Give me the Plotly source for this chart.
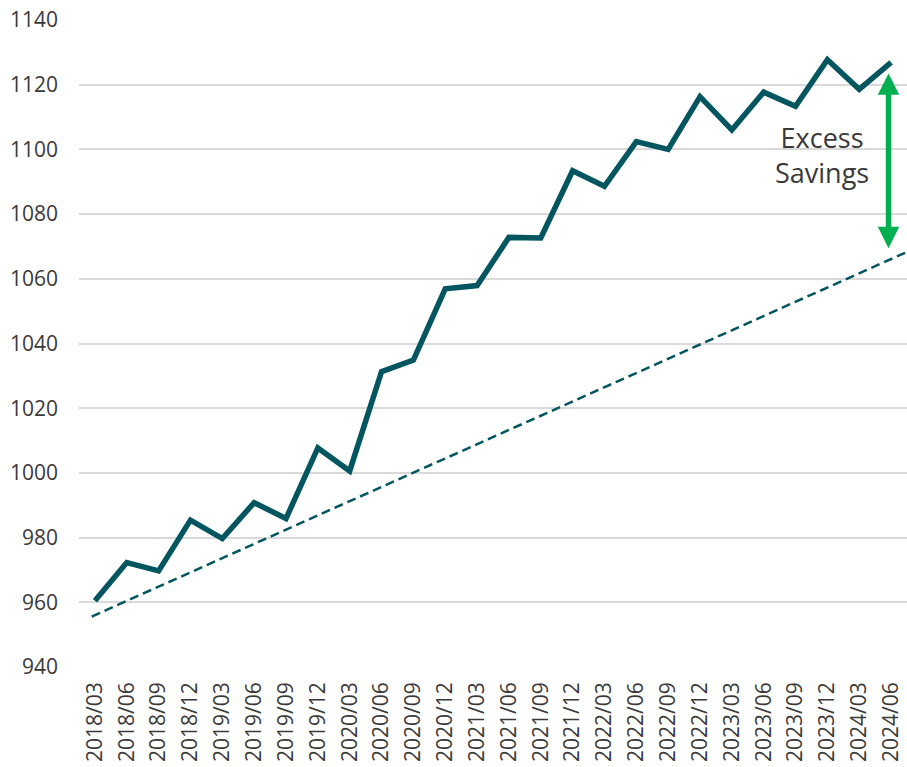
import plotly.graph_objects as go

# Quarterly periods on the horizontal axis
quarters = [
    "2018/03", "2018/06", "2018/09", "2018/12",
    "2019/03", "2019/06", "2019/09", "2019/12",
    "2020/03", "2020/06", "2020/09", "2020/12",
    "2021/03", "2021/06", "2021/09", "2021/12",
    "2022/03", "2022/06", "2022/09", "2022/12",
    "2023/03", "2023/06", "2023/09", "2023/12",
    "2024/03", "2024/06",
]

# Actual savings level per quarter
savings = [
    960.5, 972.3, 969.7, 985.4,
    979.7, 990.8, 985.9, 1007.7,
    1000.6, 1031.3, 1034.9, 1056.9,
    1057.9, 1072.8, 1072.6, 1093.4,
    1088.6, 1102.4, 1100.0, 1116.3,
    1106.0, 1117.7, 1113.3, 1127.7,
    1118.6, 1126.9,
]

# Pre-pandemic trend line (position along the quarter axis, level)
trend_pos = [-0.1, 25.5]
trend_level = [955.6, 1068.3]

# Span marked as excess savings in the last quarter
gap_pos = 24.92
gap_low = 1069.0
gap_high = 1123.5
gap_label = "Excess<br>Savings"
label_pos = 22.82
label_level = 1098.3

y_ticks = [940, 960, 980, 1000, 1020, 1040, 1060, 1080, 1100, 1120, 1140]

TEAL = "#03555F"
GREEN = "#00B050"
TEXT = "#3a3a3a"
FONT = "Open Sans"

x_idx = list(range(len(quarters)))

fig = go.Figure()

fig.add_trace(go.Scatter(
    x=trend_pos, y=trend_level, mode="lines",
    line=dict(color=TEAL, width=2.5, dash="9px,5px"),
    hoverinfo="skip", showlegend=False,
))

fig.add_trace(go.Scatter(
    x=x_idx, y=savings, mode="lines",
    line=dict(color=TEAL, width=5.5),
    showlegend=False,
))

# Double-headed arrow between trend and actual
fig.add_annotation(
    x=gap_pos, y=gap_high, ax=gap_pos, ay=gap_low,
    xref="x", yref="y", axref="x", ayref="y",
    text="", showarrow=True, arrowside="end+start",
    arrowhead=2, startarrowhead=2,
    arrowwidth=5.5, arrowsize=0.78, startarrowsize=0.78,
    arrowcolor=GREEN,
)

fig.add_annotation(
    x=label_pos, y=label_level, xref="x", yref="y",
    text=gap_label, showarrow=False,
    font=dict(family=FONT, size=27, color=TEXT),
    align="center", xanchor="center", yanchor="middle",
)

fig.update_layout(
    width=907, height=767,
    margin=dict(l=79, r=0, t=20, b=100),
    paper_bgcolor="white", plot_bgcolor="white",
    font=dict(family=FONT, color=TEXT),
    showlegend=False,
)

fig.update_xaxes(
    range=[-0.5, 25.5],
    tickmode="array", tickvals=x_idx, ticktext=quarters,
    tickangle=-90, tickfont=dict(family=FONT, size=21, color=TEXT),
    showgrid=False, zeroline=False, showline=False,
    ticks="", ticklabelstandoff=10, automargin=False,
    ticklabeloverflow="allow",
)

fig.update_yaxes(
    range=[940, 1140],
    tickmode="array", tickvals=y_ticks,
    tickfont=dict(family=FONT, size=21, color=TEXT),
    showgrid=True, gridcolor="#d9d9d9", gridwidth=1.5,
    zeroline=False, showline=False,
    ticks="", ticklabelstandoff=20, automargin=False,
)

fig.write_html("out.html")
